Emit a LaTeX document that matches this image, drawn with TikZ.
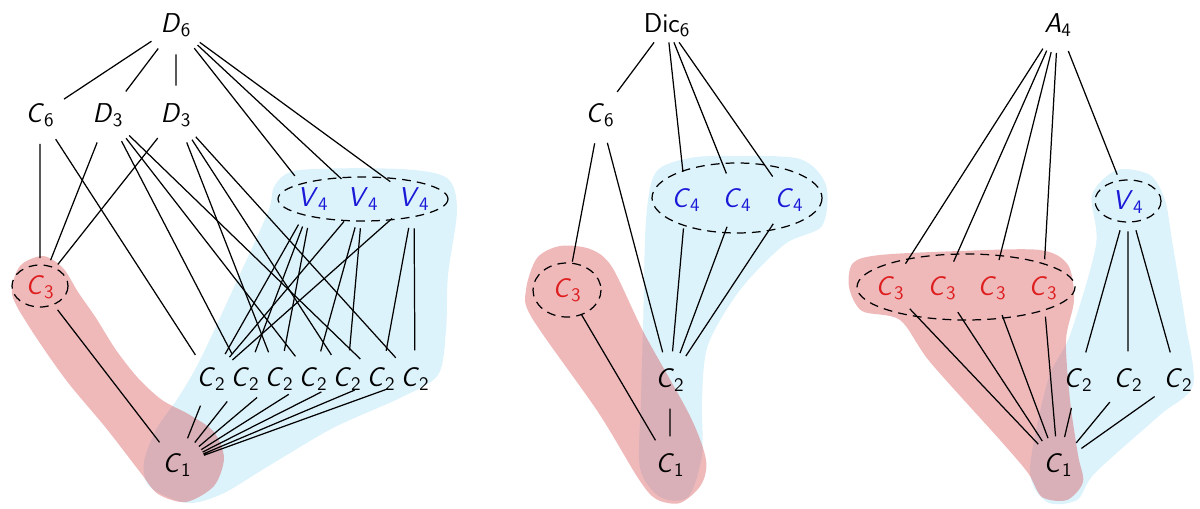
\documentclass[tikz,border=0pt]{standalone}
\usetikzlibrary{shapes.geometric}
\definecolor{grpred}{RGB}{222,30,30}
\definecolor{grpblue}{RGB}{25,25,215}
\definecolor{blobred}{RGB}{210,60,65}
\definecolor{blobblue}{RGB}{221,243,251}
\newcommand{\grp}[2]{\textsl{#1}\textsubscript{\upshape#2}}

\begin{document}
\begin{tikzpicture}[x=0.02cm, y=-0.02cm,
  every node/.style={font=\sffamily\fontsize{15.5}{18}\selectfont},
  subgrp/.style={circle, inner sep=4pt},
  cls/.style={draw, dash pattern=on 5pt off 3.5pt, line width=0.7pt},
  edge/.style={line width=0.7pt}]
\useasboundingbox (0,0) rectangle (1200,509);
% shaded blobs
\fill[blobblue] plot[smooth cycle, tension=0.5] coordinates {(150,487) (187,503) (222,494) (267,467) (333,428) (400,398) (438,375) (446,330) (448,275) (457,210) (447,178) (400,169) (300,170) (275,185) (268,212) (235,285) (200,360) (178,398) (157,428) (144,462)};
\fill[blobblue] plot[smooth cycle, tension=0.5] coordinates {(690,158) (733,156) (800,159) (826,185) (822,226) (785,244) (740,290) (708,345) (702,400) (702,455) (688,497) (660,497) (640,468) (641,400) (643,330) (646,220) (656,172)};
\fill[blobblue] plot[smooth cycle, tension=0.5] coordinates {(1117,170) (1150,175) (1165,200) (1172,240) (1185,320) (1193,385) (1160,415) (1095,473) (1077,500) (1047,502) (1030,470) (1048,380) (1070,335) (1096,245) (1092,195)};
\fill[blobred, fill opacity=0.36] plot[smooth cycle, tension=0.5] coordinates {(43,256) (63,268) (78,292) (96,318) (116,350) (138,378) (162,400) (190,415) (214,432) (224,458) (214,486) (186,502) (158,494) (140,472) (106,428) (66,380) (30,328) (12,294) (20,266)};
\fill[blobred, fill opacity=0.36] plot[smooth cycle, tension=0.5] coordinates {(537,258) (560,246) (590,249) (612,267) (644,333) (690,416) (706,460) (701,485) (680,503) (656,499) (638,478) (598,412) (532,318) (526,290)};
\fill[blobred, fill opacity=0.36] plot[smooth cycle, tension=0.5] coordinates {(853,263) (880,255) (960,251) (1040,250) (1068,265) (1074,300) (1066,340) (1070,400) (1078,455) (1083,482) (1067,500) (1042,497) (1028,473) (1000,440) (930,362) (900,320) (862,311) (849,287)};

% D6 lattice
\node[subgrp] (d6) at (176,25) {\grp{D}{6}};
\node[subgrp] (c6) at (40,115) {\grp{C}{6}};
\node[subgrp] (d3a) at (108,115) {\grp{D}{3}};
\node[subgrp] (d3b) at (176,115) {\grp{D}{3}};
\node[subgrp, text=grpblue] (v4a) at (313,199) {\grp{V}{4}};
\node[subgrp, text=grpblue] (v4b) at (363,199) {\grp{V}{4}};
\node[subgrp, text=grpblue] (v4c) at (414,199) {\grp{V}{4}};
\node[subgrp, text=grpred] (c3) at (40,287) {\grp{C}{3}};
\node[subgrp] (c2a) at (211,379) {\grp{C}{2}};
\node[subgrp] (c2b) at (245,379) {\grp{C}{2}};
\node[subgrp] (c2c) at (279,379) {\grp{C}{2}};
\node[subgrp] (c2d) at (313,379) {\grp{C}{2}};
\node[subgrp] (c2e) at (347,379) {\grp{C}{2}};
\node[subgrp] (c2f) at (381,379) {\grp{C}{2}};
\node[subgrp] (c2g) at (415,379) {\grp{C}{2}};
\node[subgrp] (c1) at (177,465) {\grp{C}{1}};
\draw[cls] (363,199) ellipse [x radius=85, y radius=22];
\draw[cls] (40,286) ellipse [x radius=28, y radius=21];
\draw[edge] (d6) -- (c6) (d6) -- (d3a) (d6) -- (d3b) (d6) -- (v4a) (d6) -- (v4b) (d6) -- (v4c);
\draw[edge] (c6) -- (c3) (c6) -- (c2a);
\draw[edge] (d3a) -- (c3) (d3a) -- (c2b) (d3a) -- (c2d) (d3a) -- (c2f);
\draw[edge] (d3b) -- (c3) (d3b) -- (c2c) (d3b) -- (c2e) (d3b) -- (c2g);
\draw[edge] (v4a) -- (c2a) (v4a) -- (c2b) (v4a) -- (c2c);
\draw[edge] (v4b) -- (c2a) (v4b) -- (c2d) (v4b) -- (c2e);
\draw[edge] (v4c) -- (c2a) (v4c) -- (c2f) (v4c) -- (c2g);
\draw[edge] (c3) -- (c1) (c2a) -- (c1) (c2b) -- (c1) (c2c) -- (c1) (c2d) -- (c1) (c2e) -- (c1) (c2f) -- (c1) (c2g) -- (c1);

% Dic6 lattice
\node[subgrp, rectangle, inner sep=3pt] (dic) at (667,25) {Dic\textsubscript{6}};
\node[subgrp] (k6) at (600,115) {\grp{C}{6}};
\node[subgrp, text=grpblue] (c4a) at (686,200) {\grp{C}{4}};
\node[subgrp, text=grpblue] (c4b) at (737,200) {\grp{C}{4}};
\node[subgrp, text=grpblue] (c4c) at (789,200) {\grp{C}{4}};
\node[subgrp, text=grpred] (k3) at (567,290) {\grp{C}{3}};
\node[subgrp] (k2) at (670,380) {\grp{C}{2}};
\node[subgrp] (k1) at (670,465) {\grp{C}{1}};
\draw[cls] (737,198) ellipse [x radius=85, y radius=35];
\draw[cls] (567,290) ellipse [x radius=34, y radius=27];
\draw[edge] (dic) -- (k6) (dic) -- (c4a) (dic) -- (c4b) (dic) -- (c4c);
\draw[edge] (k6) -- (k3) (k6) -- (k2);
\draw[edge] (c4a) -- (k2) (c4b) -- (k2) (c4c) -- (k2);
\draw[edge] (k3) -- (k1) (k2) -- (k1);

% A4 lattice
\node[subgrp] (a4) at (1058,25) {\grp{A}{4}};
\node[subgrp, text=grpblue] (w4) at (1128,202) {\grp{V}{4}};
\node[subgrp, text=grpred] (t3a) at (890,288) {\grp{C}{3}};
\node[subgrp, text=grpred] (t3b) at (942,288) {\grp{C}{3}};
\node[subgrp, text=grpred] (t3c) at (992,288) {\grp{C}{3}};
\node[subgrp, text=grpred] (t3d) at (1043,288) {\grp{C}{3}};
\node[subgrp] (t2a) at (1078,380) {\grp{C}{2}};
\node[subgrp] (t2b) at (1128,380) {\grp{C}{2}};
\node[subgrp] (t2c) at (1178,380) {\grp{C}{2}};
\node[subgrp] (t1) at (1058,465) {\grp{C}{1}};
\draw[cls] (1128,201) ellipse [x radius=33, y radius=21];
\draw[cls] (966,287) ellipse [x radius=109, y radius=33];
\draw[edge] (a4) -- (t3a) (a4) -- (t3b) (a4) -- (t3c) (a4) -- (t3d) (a4) -- (w4);
\draw[edge] (w4) -- (t2a) (w4) -- (t2b) (w4) -- (t2c);
\draw[edge] (t3a) -- (t1) (t3b) -- (t1) (t3c) -- (t1) (t3d) -- (t1);
\draw[edge] (t2a) -- (t1) (t2b) -- (t1) (t2c) -- (t1);
\end{tikzpicture}
\end{document}
